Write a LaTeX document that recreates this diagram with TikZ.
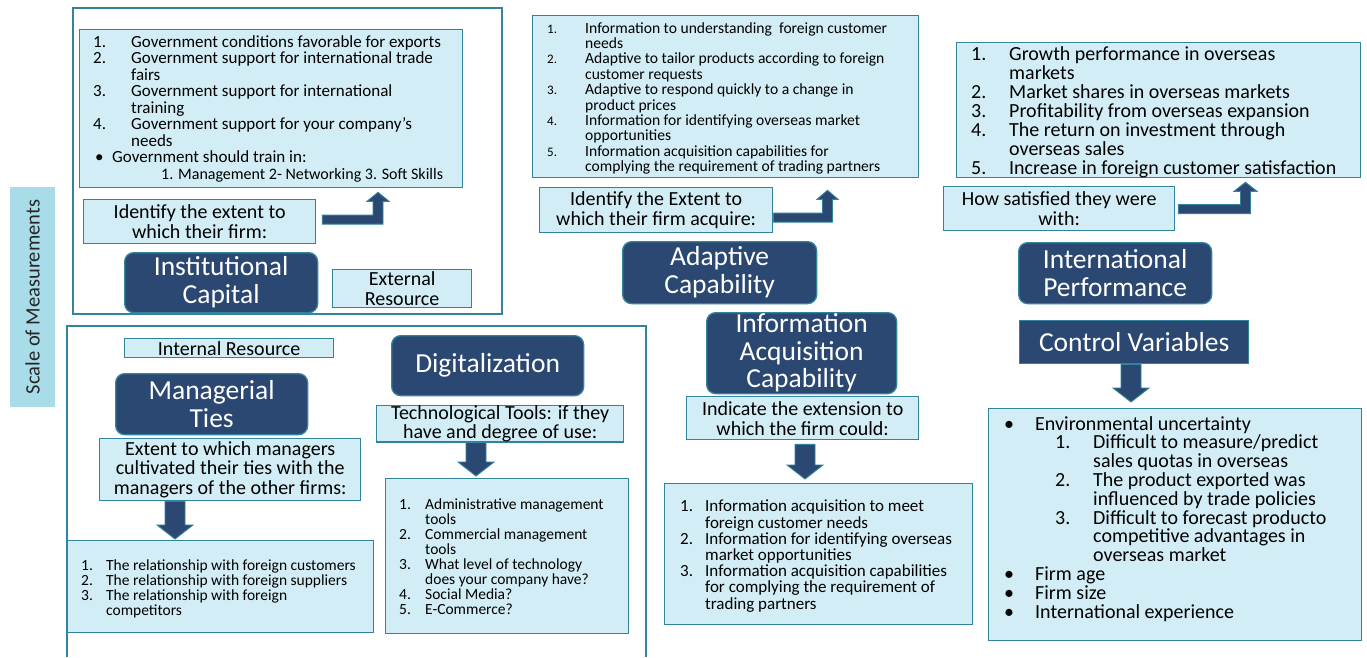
\documentclass[tikz,border=0pt]{standalone}
\usepackage{fontspec}
\setmainfont{Carlito}
\usetikzlibrary{calc}
\definecolor{navy}{HTML}{2B4873}
\definecolor{tealb}{HTML}{31849B}
\definecolor{lightb}{HTML}{D2EDF5}
\definecolor{scaleb}{HTML}{A8DCE9}
\newcommand\fsz[2]{\fontsize{#1}{#2}\selectfont\lineskiplimit=-40pt\relax}
\newcommand\nlab[2]{\makebox[#1][l]{#2}}
\newcommand\bentarr[3]{%
  \path[fatarrow] let \p1=(#1), \p2=(#2) in
    (\x1,\y1-4.5pt) -- (\x2+5pt,\y1-4.5pt) -- (\x2+5pt,\y2-9pt) -- (\x2+#3pt,\y2-9pt)
    -- (\x2,\y2) -- (\x2-#3pt,\y2-9pt) -- (\x2-5pt,\y2-9pt) -- (\x2-5pt,\y1+4.5pt)
    -- (\x1,\y1+4.5pt) -- cycle;}
\newcommand\fatdown[2]{%
  \path[fatarrow] let \p1=(#1), \p2=(#2) in
    (\x1-10pt,\y1) -- (\x1+10pt,\y1) -- (\x1+10pt,\y2+14pt) -- (\x1+18pt,\y2+14pt)
    -- (\x1,\y2) -- (\x1-18pt,\y2+14pt) -- (\x1-10pt,\y2+14pt) -- cycle;}
\tikzset{
  lbox/.style={draw=tealb, fill=lightb, line width=1.3pt, inner sep=0pt, anchor=north west, align=center, text=black, font=\fsz{20}{20}},
  nbox/.style={draw=tealb, fill=navy, line width=1.3pt, rounded corners=9pt, inner sep=0pt, anchor=north west, align=center, text=white, font=\fsz{27.5}{28}},
  sz/.style 2 args={minimum width=#1pt, minimum height=#2pt},
  fatarrow/.style={fill=navy, draw=tealb, line width=0.9pt, line join=miter},
  framebox/.style={draw=tealb, line width=1.3pt},
  ltxt/.style={anchor=north west, inner sep=0pt, align=left, text=black},
}
\begin{document}
\begin{tikzpicture}[x=1pt, y=-1pt]
\useasboundingbox (0,0) rectangle (1367,657);
\fill[white] (0,0) rectangle (1367,657);

% scale label
\node[fill=scaleb, rotate=90, sz={220}{45}, inner sep=0pt, text=black!85, font=\fsz{20.5}{21}] (scale) at (32.5,297) {Scale of Measurements};

% frames
\draw[framebox] (73,8) rectangle (502,314);
\draw[framebox] (67,657) -- (67,326) -- (646,326) -- (646,657);

% ---------- Institutional capital ----------
\node[lbox, sz={383}{158}] (gov) at (79,29) {};
\node[ltxt, font=\fsz{17}{16.5}] (govtxt) at (93,35) {%
\nlab{38pt}{1.}Government conditions favorable for exports\\
\nlab{38pt}{2.}Government support for international trade\\
\hspace*{38pt}fairs\\
\nlab{38pt}{3.}Government support for international\\
\hspace*{38pt}training\\
\nlab{38pt}{4.}Government support for your company's\\
\hspace*{38pt}needs\\
\hspace*{2pt}\nlab{17pt}{\textbullet}Government should train in:\\
\hspace*{68pt}{\fontsize{16}{16.5}\selectfont 1. Management 2- Networking 3. Soft Skills}};
\node[lbox, sz={232}{44}] (id1) at (83,199) {Identify the extent to\\which their firm:};
\node[nbox, sz={193}{60}] (inst) at (124,252) {Institutional\\Capital};
\node[lbox, sz={139}{38}] (ext) at (332,269) {External\\Resource};
\bentarr{$(id1.east)+(6,-2)$}{$(gov.south west)+(299,4)$}{11}

% ---------- Internal resources ----------
\node[lbox, sz={209}{19}] (intres) at (124,338) {Internal Resource};
\node[nbox, sz={192}{61}] (mt) at (115,373) {Managerial\\Ties};
\node[lbox, sz={261}{62}, font=\fsz{20}{19.5}] (ext2) at (99,438) {Extent to which managers\\cultivated their ties with the\\managers of the other firms:};
\node[lbox, sz={306}{92}] (rel) at (67,540) {};
\node[ltxt, font=\fsz{15.5}{15}] (reltxt) at (81,560) {%
\nlab{25pt}{1.}The relationship with foreign customers\\
\nlab{25pt}{2.}The relationship with foreign suppliers\\
\nlab{25pt}{3.}The relationship with foreign\\
\hspace*{25pt}competitors};
\fatdown{$(ext2.south west)+(76,0)$}{$(rel.north west)+(108,-1)$}

\node[nbox, sz={192}{60}] (dig) at (391,335) {Digitalization};
\node[lbox, sz={247}{36}, font=\fsz{20}{19}] (tech) at (376,405) {Technological Tools: if they\\have and degree of use:};
\node[lbox, sz={243}{155}] (tools) at (385,478) {};
\node[ltxt, font=\fsz{15.5}{14.9}] (toolstxt) at (399,499) {%
\nlab{26pt}{1.}Administrative management\\
\hspace*{26pt}tools\\
\nlab{26pt}{2.}Commercial management\\
\hspace*{26pt}tools\\
\nlab{26pt}{3.}What level of technology\\
\hspace*{26pt}does your company have?\\
\nlab{26pt}{4.}Social Media?\\
\nlab{26pt}{5.}E-Commerce?};
\fatdown{$(tech.south west)+(100,0)$}{$(tools.north west)+(91,-2)$}

% ---------- Adaptive capability ----------
\node[lbox, sz={386}{162}] (adl) at (532,15) {};
\node[ltxt, font=\fsz{15.6}{15.4}] (adltxt) at (547,22) {%
\nlab{38pt}{\fontsize{13}{15.4}\selectfont 1.}Information to understanding\ \ foreign customer\\
\hspace*{38pt}needs\\
\nlab{38pt}{\fontsize{13}{15.4}\selectfont 2.}Adaptive to tailor products according to foreign\\
\hspace*{38pt}customer requests\\
\nlab{38pt}{\fontsize{13}{15.4}\selectfont 3.}Adaptive to respond quickly to a change in\\
\hspace*{38pt}product prices\\
\nlab{38pt}{\fontsize{13}{15.4}\selectfont 4.}Information for identifying overseas market\\
\hspace*{38pt}opportunities\\
\nlab{38pt}{\fontsize{13}{15.4}\selectfont 5.}Information acquisition capabilities for\\
\hspace*{38pt}complying the requirement of trading partners};
\node[lbox, sz={233}{45}] (id2) at (539,187) {Identify the Extent to\\which their firm acquire:};
\node[nbox, sz={194}{62}] (adap) at (622,241) {Adaptive\\Capability};
\bentarr{$(id2.east)+(0,7.5)$}{$(adl.south west)+(295.5,12)$}{10.5}

% ---------- International performance ----------
\node[lbox, sz={404}{135}] (perf) at (956,42) {};
\node[ltxt, font=\fsz{20}{19}] (perftxt) at (971,46) {%
\nlab{38pt}{1.}Growth performance in overseas\\
\hspace*{38pt}markets\\
\nlab{38pt}{2.}Market shares in overseas markets\\
\nlab{38pt}{3.}Profitability from overseas expansion\\
\nlab{38pt}{4.}The return on investment through\\
\hspace*{38pt}overseas sales\\
\nlab{38pt}{5.}Increase in foreign customer satisfaction};
\node[lbox, sz={231}{44}] (how) at (943,186) {How satisfied they were\\with:};
\node[nbox, sz={193}{61}] (intl) at (1018,242) {International\\Performance};
\bentarr{$(how.east)+(3,0.5)$}{$(perf.south west)+(289.5,4)$}{11.5}

% ---------- Information acquisition ----------
\node[nbox, sz={190}{81}, font=\fsz{27.5}{27.5}] (iac) at (706,312) {Information\\Acquisition\\Capability};
\node[lbox, sz={232}{43}] (ind) at (686,396) {Indicate the extension to\\which the firm could:};
\node[lbox, sz={308}{141}] (infl) at (664,483) {};
\node[ltxt, font=\fsz{17}{16.2}] (infltxt) at (680,500) {%
\nlab{25pt}{1.}Information acquisition to meet\\
\hspace*{25pt}foreign customer needs\\
\nlab{25pt}{2.}Information for identifying overseas\\
\hspace*{25pt}market opportunities\\
\nlab{25pt}{3.}Information acquisition capabilities\\
\hspace*{25pt}for complying the requirement of\\
\hspace*{25pt}trading partners};
\fatdown{$(ind.south west)+(119,4)$}{$(infl.north west)+(141,-4)$}

% ---------- Control variables ----------
\node[nbox, rounded corners=0pt, sz={229}{43}] (cv) at (1019,320) {Control Variables};
\node[lbox, sz={373}{232}] (ctl) at (988,408) {};
\node[ltxt, font=\fsz{20}{18.8}] (ctltxt) at (1004,416) {%
\nlab{31pt}{\textbullet}Environmental uncertainty\\
\hspace*{51pt}\nlab{38pt}{1.}Difficult to measure/predict\\
\hspace*{89pt}sales quotas in overseas\\
\hspace*{51pt}\nlab{38pt}{2.}The product exported was\\
\hspace*{89pt}influenced by trade policies\\
\hspace*{51pt}\nlab{38pt}{3.}Difficult to forecast producto\\
\hspace*{89pt}competitive advantages in\\
\hspace*{89pt}overseas market\\
\nlab{31pt}{\textbullet}Firm age\\
\nlab{31pt}{\textbullet}Firm size\\
\nlab{31pt}{\textbullet}International experience};
\fatdown{$(cv.south west)+(112,0)$}{$(ctl.north west)+(143,-6)$}
\end{tikzpicture}
\end{document}
